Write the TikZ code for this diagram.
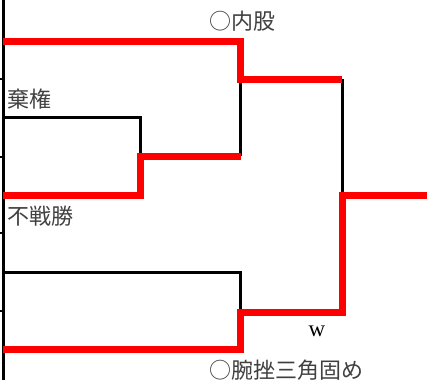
\documentclass[tikz,border=0pt]{standalone}
\usepackage{fontspec}
\setmainfont{Liberation Serif}
\newfontfamily\jp{Noto Sans CJK JP}
\begin{document}
\begin{tikzpicture}[x=1pt,y=-1pt,
  blk/.style={draw=black,line width=3pt,line join=miter},
  win/.style={draw=red,line width=7pt,line join=miter},
  tick/.style={draw=black,line width=2.5pt},
  lbl/.style={inner sep=0pt,anchor=west,text=black!75,font=\jp\fontsize{22}{22}\selectfont},
  wlbl/.style={inner sep=0pt,font=\fontsize{23}{23}\selectfont}]
\useasboundingbox (0,0) rectangle (427,380);
% left rail
\coordinate (rt) at (3,0);
\coordinate (rb) at (3,380);
\draw[blk] (rt) -- (rb);
\foreach \yy in {79,157,233,311}{\draw[tick] (0,\yy) -- (3,\yy);}
% entrants
\coordinate (e1) at (3,41);
\coordinate (e2) at (3,117);
\coordinate (e3) at (3,195);
\coordinate (e4) at (3,272);
\coordinate (e5) at (3,349);
% junctions
\coordinate (j23) at (140.5,156);
\coordinate (j45) at (240.5,312);
\coordinate (jtop) at (240.5,79);
\coordinate (jf) at (342,195);
\coordinate (out) at (427,195);
% black (losing) lines
\draw[blk] (e2) -- (e2 -| j23) -- (j23);
\draw[blk] (jtop) -- (jtop |- j23);
\draw[blk] (e4) -- (e4 -| j45) -- (j45);
\draw[blk] (jtop -| jf) -- (jf);
% red (winning) lines
\draw[win] (e1) -- (e1 -| jtop) -- (jtop) -- (jtop -| jf);
\draw[win] (e3) -- (e3 -| j23) -- (j23) -- (j23 -| jtop);
\draw[win] (e5) -- (e5 -| j45) -- (j45) -- (j45 -| jf) -- (jf) -- (out);
% labels
\node[lbl] (l1) at (209,21) {○内股};
\node[lbl] (l2) at (7,99) {棄権};
\node[lbl] (l3) at (7,216) {不戦勝};
\node[lbl] (l5) at (209,370) {○腕挫三角固め};
\node[wlbl] (w) at (317,331) {w};
\end{tikzpicture}
\end{document}
